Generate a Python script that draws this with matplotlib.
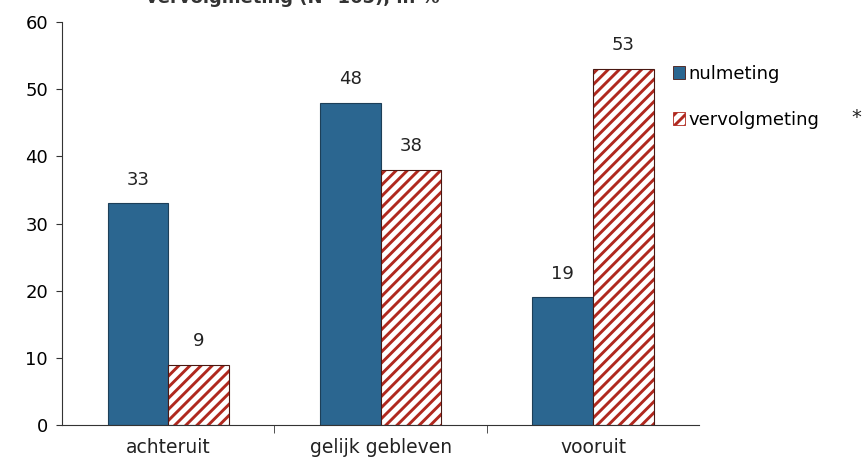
import numpy as np
import matplotlib
matplotlib.use("Agg")
import matplotlib.pyplot as plt

categories = ["achteruit", "gelijk gebleven", "vooruit"]
nulmeting = [33, 48, 19]
vervolgmeting = [9, 38, 53]
title = "vervolgmeting (N=165), in %"

blue = "#2b6690"
red = "#b0281e"

plt.rcParams["font.family"] = ["DejaVu Sans"]
plt.rcParams["hatch.linewidth"] = 2.1

fig = plt.figure(figsize=(8.67, 4.62), dpi=100)
ax = fig.add_axes([0.0715, 0.080, 0.735, 0.872])

x = np.arange(len(categories))
w = 0.285
b1 = ax.bar(x - w / 2, nulmeting, w, color=blue, edgecolor="#1d3f58", linewidth=0.8,
            label="nulmeting")
# hatch takes the edge colour, so draw the stripes and the outline separately
b2 = ax.bar(x + w / 2, vervolgmeting, w, color="white", edgecolor=red,
            linewidth=0, hatch="///", label="vervolgmeting")
ax.bar(x + w / 2, vervolgmeting, w, fill=False, edgecolor="#4a1812", linewidth=0.8)

for bars, vals in ((b1, nulmeting), (b2, vervolgmeting)):
    for r, v in zip(bars, vals):
        ax.text(r.get_x() + r.get_width() / 2, v + 2.2, str(v), ha="center",
                va="bottom", fontsize=13, color="#222222")

ax.set_xlim(-0.5, 2.5)
ax.set_ylim(0, 60)
ax.set_yticks(range(0, 61, 10))
ax.set_xticks([])
ax.set_xticks([0.5, 1.5], minor=True)
ax.tick_params(axis="x", which="minor", length=6, color="#333333")
ax.tick_params(axis="y", length=4, labelsize=13, color="#333333", pad=6)
for i, c in enumerate(categories):
    ax.text(i, -2.0, c, ha="center", va="top", fontsize=13.5, color="#222222")

for s in ("top", "right"):
    ax.spines[s].set_visible(False)
for s in ("left", "bottom"):
    ax.spines[s].set_color("#333333")

leg = fig.legend(handles=[b1, b2], loc="upper left", bbox_to_anchor=(0.757, 0.895),
                 frameon=False, fontsize=13, handlelength=0.7, handleheight=0.7,
                 handletextpad=0.2, labelspacing=1.55)
for h in leg.legend_handles:
    h.set_edgecolor("#4a1812")
    h.set_linewidth(0.6)
leg.legend_handles[1].set_edgecolor(red)
fig.text(0.988, 0.745, "*", fontsize=14, ha="center", va="center", color="#222222")

fig.text(0.338, 1.004, title, ha="center", va="center", fontsize=13,
         fontweight="semibold", color="#333333")

fig.savefig("out.png", dpi=100)
